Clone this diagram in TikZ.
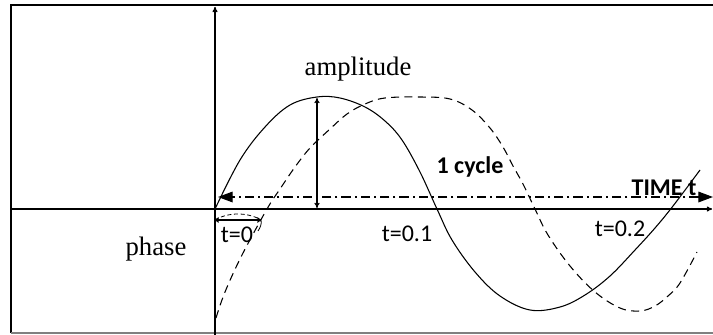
\documentclass[tikz,border=0pt]{standalone}
\usepackage{fontspec}
\setmainfont{Liberation Serif}
\newfontfamily\carl{Carlito}
\usetikzlibrary{arrows.meta}
\tikzset{
  frameline/.style={line width=1.6pt},
  axisline/.style={line width=1.1pt},
  curve/.style={line width=0.8pt},
  dashcurve/.style={line width=0.8pt, dash pattern=on 6pt off 4pt},
  dashdot/.style={line width=0.9pt, dash pattern=on 7pt off 3pt on 1.5pt off 3pt},
  serlabel/.style={font=\fontsize{20}{22}\selectfont, anchor=base, inner sep=0pt},
  boldlabel/.style={font=\carl\bfseries\fontsize{18}{20}\selectfont, anchor=base, inner sep=0pt},
  tlabel/.style={font=\carl\fontsize{18}{20}\selectfont, anchor=base, inner sep=0pt},
  opentip/.style={-{To[length=4pt,width=4pt]}},
}
\begin{document}
\begin{tikzpicture}[x=0.75pt,y=-0.75pt]
\useasboundingbox (0,0) rectangle (713,335);
% frame
\coordinate (fbl) at (11,333);
\coordinate (ftl) at (11,5);
\coordinate (ftr) at (713,5);
\coordinate (fbr) at (713,333);
\draw[frameline] (fbl) -- (ftl) -- (ftr);
\draw[line width=0.8pt, gray] (fbl) -- (fbr);
% axes
\coordinate (xl) at (11,209);
\coordinate (xr) at (712,209);
\coordinate (yb) at (215,335);
\coordinate (yt) at (215,7);
\draw[axisline, opentip] (xl) -- (xr);
\draw[axisline, opentip] (yb) -- (yt);
% solid sine
\draw[curve] plot[smooth, tension=0.6] coordinates {
 (215,209) (240,160) (265,127) (290,105) (317,97) (340,98) (365,107)
 (385,121) (402,140) (420,172) (437,209) (452,240) (475,272) (500,296)
 (530,310) (560,307) (585,295) (610,276) (635,250) (655,228) (673,206) (700,170)};
% dashed sine
\draw[dashcurve] plot[smooth, tension=0.6] coordinates {
 (216,318) (225,292) (242,255) (267,209) (280,189) (295,167) (310,148)
 (330,129) (347,114) (365,104) (385,98) (420,97) (450,99) (472,110)
 (490,128) (503,147) (513,166) (523,184) (535,209) (548,235) (570,266)
 (595,292) (620,308) (640,311) (655,306) (668,296) (680,283) (697,252)};
% amplitude arrow
\coordinate (ampt) at (317,98);
\coordinate (ampb) at (317,208);
\draw[line width=0.9pt, {To[length=4pt,width=4pt]}-{To[length=4pt,width=4pt]}] (ampb) -- (ampt);
% cycle arrow
\coordinate (cycl) at (218,197);
\coordinate (cycr) at (713,197);
\draw[dashdot, {Triangle[length=11pt,width=8pt]}-{Triangle[length=11pt,width=8pt]}] (cycr) -- (cycl);
% phase arrow
\coordinate (phl) at (215,220);
\coordinate (phr) at (261,220);
\draw[line width=0.8pt, {To[length=3pt,width=4pt]}-{To[length=3pt,width=4pt]}] (phl) -- (phr);
\draw[line width=0.6pt, dash pattern=on 3pt off 2pt] (phl) .. controls (228,212) and (248,212) .. (phr);
\draw[line width=0.6pt] (phr) .. controls (262,224) and (260,228) .. (258,231);
% labels
\node[serlabel] (amp) at (358,75) {amplitude};
\node[serlabel] (phase) at (156,255) {phase};
\node[boldlabel] (cyc) at (470,173) {1 cycle};
\node[boldlabel] (time) at (664,195) {TIME t};
\node[tlabel] (t0) at (237,242) {t=0};
\node[tlabel] (t1) at (407,241) {t=0.1};
\node[tlabel] (t2) at (620,236) {t=0.2};
\end{tikzpicture}
\end{document}
